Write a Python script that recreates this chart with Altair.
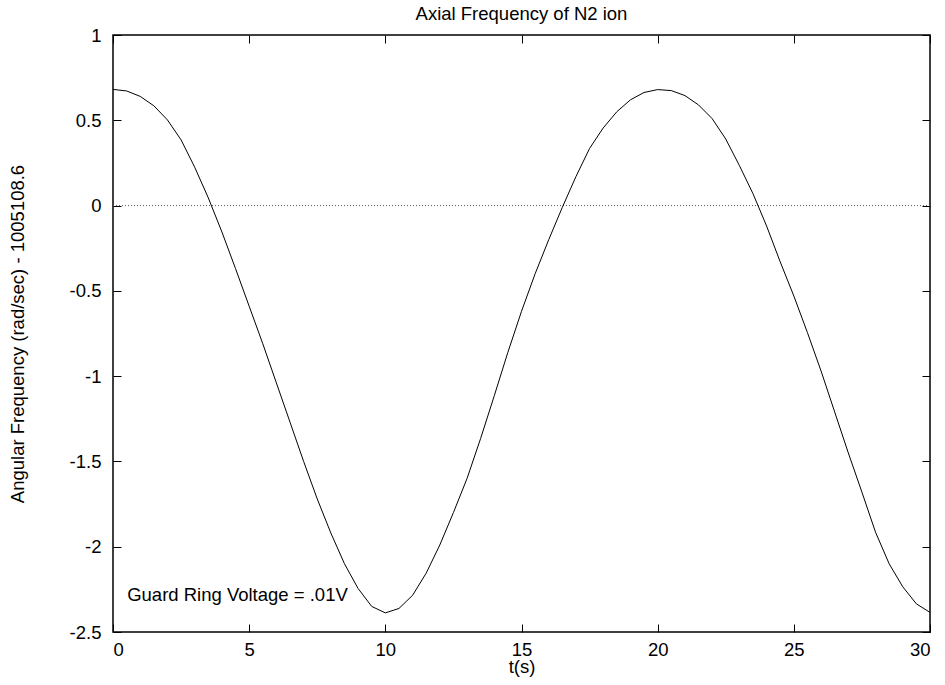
import altair as alt
import pandas as pd

FONT = "Liberation Sans"
FS = 18.5

chart_title = "Axial Frequency of N2 ion"
x_title = "t(s)"
y_title = "Angular Frequency (rad/sec) - 1005108.6"
annotation = "Guard Ring Voltage = .01V"

t_s = [0.0, 0.5, 1.0, 1.5, 2.0, 2.5, 3.0, 3.5, 4.0, 4.5,
       5.0, 5.5, 6.0, 6.5, 7.0, 7.5, 8.0, 8.5, 9.0, 9.5,
       10.0, 10.5, 11.0, 11.5, 12.0, 12.5, 13.0, 13.5, 14.0, 14.5,
       15.0, 15.5, 16.0, 16.5, 17.0, 17.5, 18.0, 18.5, 19.0, 19.5,
       20.0, 20.5, 21.0, 21.5, 22.0, 22.5, 23.0, 23.5, 24.0, 24.5,
       25.0, 25.5, 26.0, 26.5, 27.0, 27.5, 28.0, 28.5, 29.0, 29.5,
       30.0]

freq = [0.681, 0.672, 0.640, 0.585, 0.502, 0.385, 0.225, 0.045, -0.155, -0.37,
        -0.59, -0.81, -1.04, -1.27, -1.50, -1.72, -1.92, -2.10, -2.245, -2.35,
        -2.388, -2.362, -2.285, -2.155, -1.99, -1.80, -1.60, -1.365, -1.115, -0.86,
        -0.62, -0.40, -0.20, -0.01, 0.17, 0.335, 0.455, 0.55, 0.62, 0.663,
        0.680, 0.674, 0.645, 0.59, 0.51, 0.39, 0.235, 0.07, -0.12, -0.33,
        -0.53, -0.745, -0.97, -1.21, -1.45, -1.68, -1.915, -2.10, -2.235, -2.335,
        -2.385]

x_ticks = [0, 5, 10, 15, 20, 25, 30]
y_ticks = [-2.5, -2, -1.5, -1, -0.5, 0, 0.5, 1]
zero_level = [0.0]

df = pd.DataFrame({"t": t_s, "f": freq})
zdf = pd.DataFrame({"z": zero_level})

xscale = alt.Scale(domain=[0, 30], nice=False, zero=False)
yscale = alt.Scale(domain=[-2.5, 1], nice=False, zero=False)

zero_line = alt.Chart(zdf).mark_rule(color="#555555", strokeDash=[1, 2], strokeWidth=1).encode(
    y=alt.Y("z:Q", scale=yscale, axis=None)
)

curve = alt.Chart(df).mark_line(color="black", strokeWidth=1).encode(
    x=alt.X("t:Q", scale=xscale,
            axis=alt.Axis(orient="bottom", values=x_ticks, offset=-8, tickSize=8,
                          labelPadding=8, domain=False, grid=False, title=x_title,
                          titlePadding=-1, labelExpr="datum.value + ''")),
    y=alt.Y("f:Q", scale=yscale,
            axis=alt.Axis(orient="left", values=y_ticks, offset=-8, tickSize=8,
                          labelPadding=12, domain=False, grid=False, title=y_title,
                          titlePadding=42, labelExpr="datum.value + ''")),
)

mirror = alt.Chart(df).mark_line(opacity=0).encode(
    x=alt.X("t:Q", scale=xscale,
            axis=alt.Axis(orient="top", values=x_ticks, offset=-8, tickSize=8,
                          labels=False, domain=False, grid=False, title=None)),
    y=alt.Y("f:Q", scale=yscale,
            axis=alt.Axis(orient="right", values=y_ticks, offset=-8, tickSize=8,
                          labels=False, domain=False, grid=False, title=None)),
)

label = alt.Chart(zdf).mark_text(align="left", baseline="alphabetic", font=FONT,
                                 fontSize=FS, color="black").encode(
    x=alt.XDatum(0.52, type="quantitative", scale=xscale, axis=None),
    y=alt.YDatum(-2.318, type="quantitative", scale=yscale, axis=None),
    text=alt.value(annotation),
)

chart = alt.layer(zero_line, curve, mirror, label).resolve_axis(
    x="independent", y="independent"
).properties(
    width=817,
    height=597,
    autosize=alt.AutoSizeParams(type="none"),
    padding={"left": 113, "top": 35, "right": 15, "bottom": 53},
    title=alt.Title(chart_title, font=FONT, fontSize=FS, fontWeight="normal",
                    anchor="middle", frame="group", offset=3, color="black"),
).configure_view(
    stroke="black", strokeWidth=1.5
).configure_axis(
    labelFont=FONT, labelFontSize=FS, labelColor="black",
    titleFont=FONT, titleFontSize=FS, titleFontWeight="normal", titleColor="black",
    tickColor="black", tickWidth=1,
)

chart.save("out.html", embed_options={"renderer": "svg", "actions": False})
